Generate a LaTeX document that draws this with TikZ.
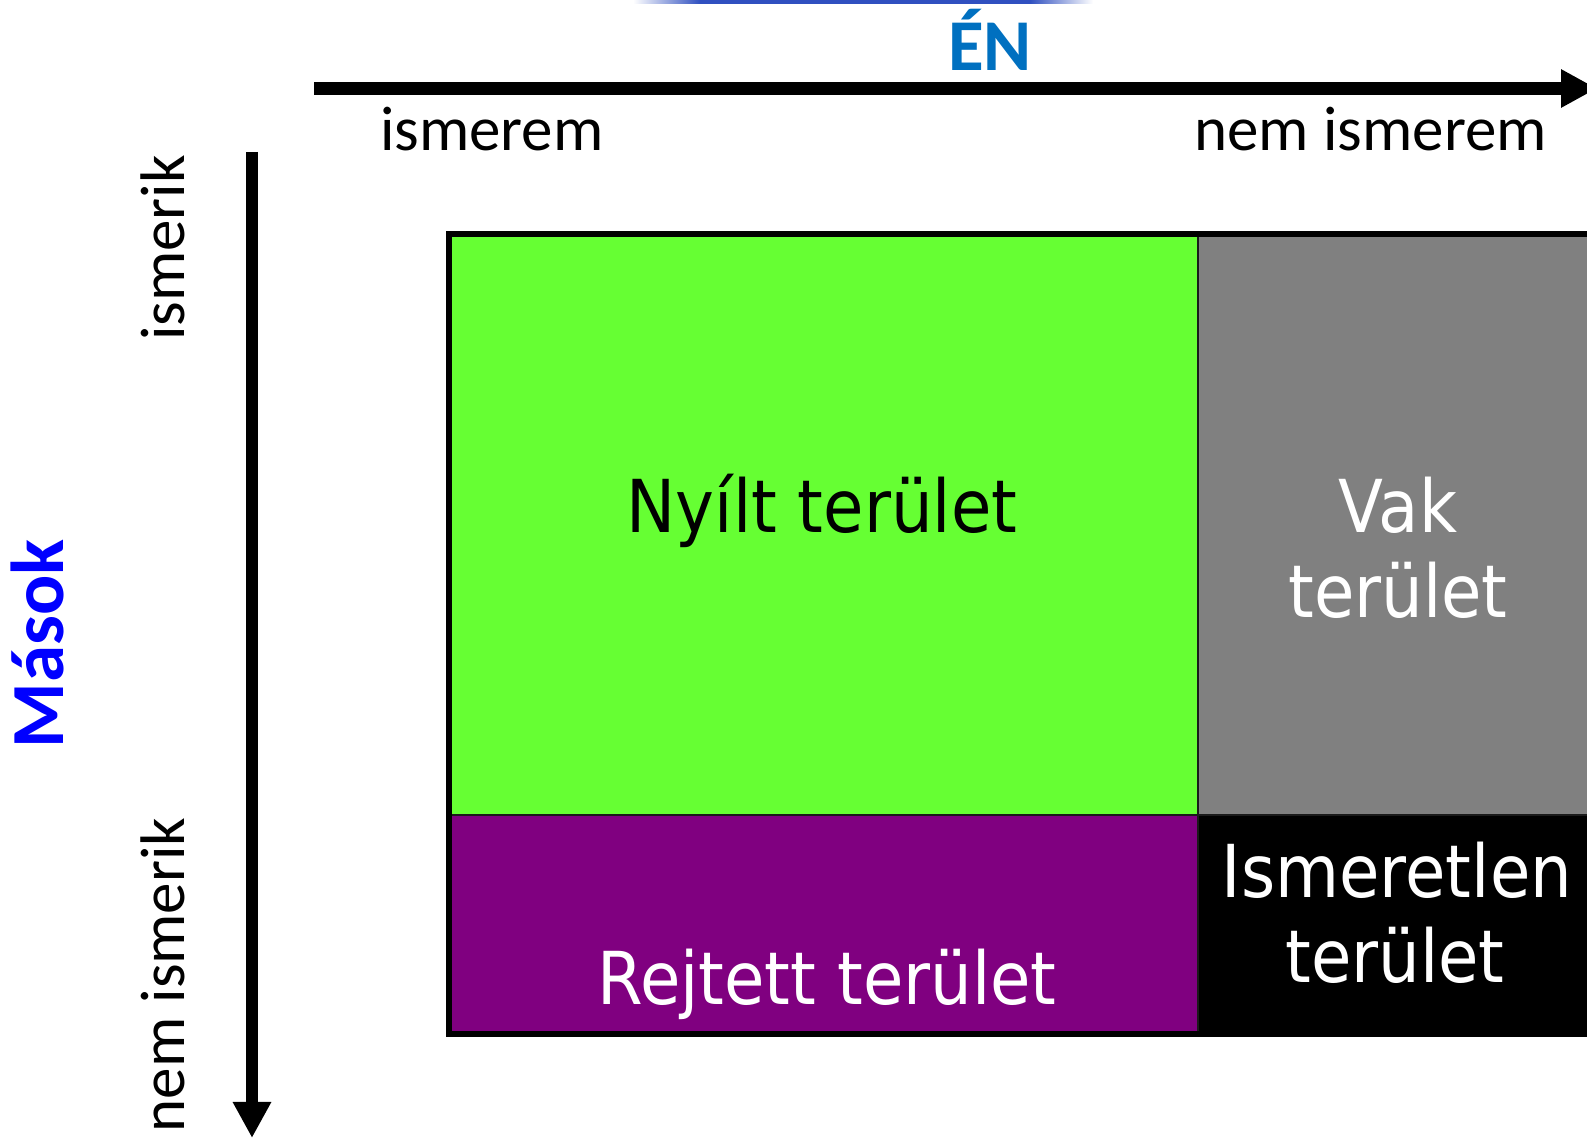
\documentclass[tikz,border=0pt]{standalone}
\usepackage{fontspec}
\usetikzlibrary{arrows.meta}
\newfontfamily\boxfont{DejaVu Sans}[FakeStretch=0.9]
\newfontfamily\axfont{Carlito}
\definecolor{openG}{HTML}{66FF33}
\definecolor{blindG}{HTML}{808080}
\definecolor{hiddenP}{HTML}{800080}
\definecolor{enBlue}{HTML}{0070C0}
\definecolor{masokBlue}{HTML}{0000FF}
\definecolor{rimBlue}{HTML}{3050C0}
\definecolor{seam}{HTML}{1A1A1A}
\begin{document}
\begin{tikzpicture}[x=0.5pt,y=0.5pt,
  every node/.style={inner sep=0pt, outer sep=0pt},
  quad/.style={rectangle, draw=none, anchor=north west},
  axisarrow/.style={-{Triangle[length=18pt,width=18pt]}, line cap=butt},
  axlabel/.style={font=\axfont\fontsize{31.5pt}{38pt}\selectfont, anchor=base},
  quadtext/.style={font=\boxfont\fontsize{36.5pt}{44pt}\selectfont, anchor=base},
  seamline/.style={draw=seam, line width=1pt},
  rim/.style={draw=black, line width=3pt, line join=miter}]
\useasboundingbox (0,0) rectangle (1587,-1138);
\clip (0,0) rectangle (1587,-1138);

% thin blue rule along the top edge, fading out at both ends
\shade[left color=white, right color=rimBlue] (633,0) rectangle (700,-4);
\fill[rimBlue] (700,0) rectangle (1030,-4);
\shade[left color=rimBlue, right color=white] (1030,0) rectangle (1093,-4);

% the four quadrants of the window
\node[quad, fill=openG, minimum width=374.5pt, minimum height=290.5pt] (open) at (449,-234) {};
\node[quad, fill=blindG, minimum width=201pt, minimum height=290.5pt] (blind) at (1198,-234) {};
\node[quad, fill=hiddenP, minimum width=374.5pt, minimum height=109.75pt] (hidden) at (449,-815) {};
\node[quad, fill=black, minimum width=201pt, minimum height=109.75pt] (unknown) at (1198,-815) {};

% inner seams and outer rim
\draw[seamline] (open.north east) -- (hidden.south east);
\draw[seamline] (open.south west) -- (blind.south east);
\draw[rim] (blind.north east) -- (open.north west) -- (hidden.south west) -- (unknown.south east);

% quadrant titles
\node[quadtext, text=black] (openT) at (822,-533) {Nyílt terület};
\node[quadtext, text=white] (blindA) at (1398,-533) {Vak};
\node[quadtext, text=white] (blindB) at (1398,-618) {terület};
\node[quadtext, text=white] (unknownA) at (1397,-898) {Ismeretlen};
\node[quadtext, text=white] (unknownB) at (1395,-983) {terület};
\node[quadtext, text=white] (hiddenT) at (827,-1005) {Rejtett terület};

% axes
\coordinate (xs) at (314,-88.5);
\coordinate (xe) at (1597,-88.5);
\draw[axisarrow, line width=6.5pt] (xs) -- (xe);
\coordinate (ys) at (252,-152);
\coordinate (ye) at (252,-1138);
\draw[axisarrow, line width=6pt] (ys) -- (ye);

% axis titles and labels
\node[font=\axfont\bfseries\fontsize{36.5pt}{44pt}\selectfont, text=enBlue, anchor=base] (en) at (990,-71) {ÉN};
\node[axlabel, anchor=base west] (knowA) at (380,-151) {ismerem};
\node[axlabel, anchor=base east] (knowB) at (1547,-151) {nem ismerem};
\node[font=\axfont\bfseries\fontsize{37.5pt}{44pt}\selectfont, text=masokBlue, anchor=base, rotate=90] (masok) at (63,-644) {Mások};
\node[axlabel, rotate=90] (othA) at (184,-248) {ismerik};
\node[axlabel, rotate=90] (othB) at (184,-975) {nem ismerik};
\end{tikzpicture}
\end{document}
